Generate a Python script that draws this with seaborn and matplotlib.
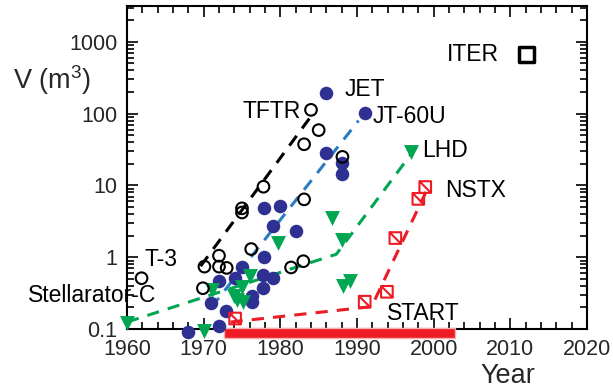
import matplotlib
matplotlib.use("Agg")
import matplotlib.pyplot as plt
from matplotlib.path import Path
from matplotlib.patches import Rectangle
from matplotlib.ticker import FixedLocator, FuncFormatter, MultipleLocator, LogLocator
import seaborn as sns
import numpy as np

# ---------------- data ----------------
tok_open_year = [1961.9, 1969.9, 1970.1, 1972.0, 1972.0, 1973.0, 1975.0, 1975.0, 1976.2,
                 1977.8, 1981.4, 1983.0, 1983.1, 1983.1, 1984.0, 1985.0, 1988.1]
tok_open_vol = [0.51, 0.37, 0.74, 1.05, 0.74, 0.71, 4.8, 4.2, 1.3,
                9.6, 0.72, 0.88, 6.4, 37.5, 113, 59, 25]

tok_fill_year = [1968.0, 1971.0, 1972.0, 1972.0, 1972.9, 1974.1, 1975.0, 1976.3, 1976.3,
                 1977.8, 1977.8, 1977.9, 1977.9, 1979.0, 1979.1, 1980.0, 1982.0,
                 1986.0, 1986.0, 1988.1, 1988.1, 1991.0]
tok_fill_vol = [0.09, 0.23, 0.11, 0.46, 0.18, 0.51, 0.74, 0.24, 0.29,
                0.37, 0.57, 1.02, 4.8, 2.7, 0.51, 5.2, 2.35,
                28, 193, 20.8, 14.5, 101]

stell_year = [1960.0, 1970.0, 1971.1, 1973.9, 1974.4, 1975.1, 1975.0, 1976.1, 1979.7,
              1986.7, 1988.0, 1988.2, 1989.1, 1997.0]
stell_vol = [0.122, 0.095, 0.35, 0.29, 0.25, 0.24, 0.39, 0.54, 1.6,
             3.5, 1.75, 0.40, 0.47, 29]

st_year = [1974.1, 1991.0, 1993.9, 1995.0, 1998.0, 1998.9]
st_vol = [0.14, 0.24, 0.33, 1.85, 6.5, 9.5]

iter_year = [2012.1]
iter_vol = [660]

trend_black_year = [1969.6, 1984.4]
trend_black_vol = [0.75, 105]
trend_blue_year = [1971.0, 1990.2]
trend_blue_vol = [0.2, 80]
trend_green_year = [1960.0, 1987.3, 1998.2]
trend_green_vol = [0.125, 1.1, 40]
trend_red_year = [1973.5, 1991.9, 1999.3]
trend_red_vol = [0.125, 0.205, 9.5]

bar_start, bar_end = 1972.6, 2002.8

labels = ["JET", "TFTR", "JT-60U", "LHD", "NSTX", "START", "T-3", "Stellarator-C", "ITER"]
label_year = [1988.4, 1982.6, 1992.1, 1998.5, 2001.5, 1993.9, 1962.3, 1947.1, 2001.7]
label_vol = [214, 106, 90, 31, 8.6, 0.167, 0.92, 0.29, 660]
label_ha = ["left", "right", "left", "left", "left", "left", "left", "left", "left"]

x_ticks = [1960, 1970, 1980, 1990, 2000, 2010, 2020]
y_ticks = [0.1, 1, 10, 100, 1000]
y_ticklabels = ["0.1", "1", "10", "100", "1000"]

# ---------------- style ----------------
sns.set_style("ticks")
plt.rcParams["font.family"] = ["Liberation Sans", "DejaVu Sans"]
plt.rcParams["mathtext.fontset"] = "custom"
plt.rcParams["mathtext.rm"] = "Liberation Sans"
plt.rcParams["mathtext.it"] = "Liberation Sans"

BLUE_DOT = "#2e3192"
BLUE_LINE = "#2a7bc4"
GREEN = "#00a651"
RED = "#ed1c24"

fig = plt.figure(figsize=(6.13, 3.92), dpi=100)
ax = fig.add_axes([127 / 613, 1 - 329 / 392, 460 / 613, 323 / 392])

ax.set_yscale("log")
ax.set_xlim(1960, 2020)
ax.set_ylim(0.1, 10 ** 3.5)

lw = 2.2
dash = (0, (4, 3))
sns.lineplot(x=trend_black_year, y=trend_black_vol, ax=ax, color="black", linewidth=lw,
             linestyle=dash, sort=False, estimator=None, zorder=2)
sns.lineplot(x=trend_blue_year, y=trend_blue_vol, ax=ax, color=BLUE_LINE, linewidth=lw,
             linestyle=dash, sort=False, estimator=None, zorder=2)
sns.lineplot(x=trend_green_year, y=trend_green_vol, ax=ax, color=GREEN, linewidth=lw,
             linestyle=dash, sort=False, estimator=None, zorder=2)
sns.lineplot(x=trend_red_year, y=trend_red_vol, ax=ax, color=RED, linewidth=lw,
             linestyle=dash, sort=False, estimator=None, zorder=2)

sns.scatterplot(x=tok_fill_year, y=tok_fill_vol, ax=ax, color=BLUE_DOT, s=95,
                edgecolor=BLUE_DOT, linewidth=0, zorder=4, clip_on=False)
sns.scatterplot(x=tok_open_year, y=tok_open_vol, ax=ax, facecolor="none", s=70,
                edgecolor="black", linewidth=1.5, zorder=5, clip_on=False)
sns.scatterplot(x=stell_year, y=stell_vol, ax=ax, marker="v", color=GREEN, s=115,
                edgecolor=GREEN, linewidth=0, zorder=4, clip_on=False)

sq_diag = Path([(-1, -1), (1, -1), (1, 1), (-1, 1), (-1, -1), (-1, 1), (1, -1)],
               [Path.MOVETO, Path.LINETO, Path.LINETO, Path.LINETO, Path.CLOSEPOLY,
                Path.MOVETO, Path.LINETO])
sns.scatterplot(x=st_year, y=st_vol, ax=ax, marker=sq_diag, facecolor="none", s=70,
                edgecolor=RED, linewidth=1.5, zorder=6, clip_on=False)
sns.scatterplot(x=iter_year, y=iter_vol, ax=ax, marker="s", facecolor="none", s=115,
                edgecolor="black", linewidth=2.5, zorder=6, clip_on=False)

ax.add_patch(Rectangle((bar_start, -0.028), bar_end - bar_start, 0.031,
                       transform=ax.get_xaxis_transform(), facecolor=RED,
                       edgecolor="#f6b0b0", linewidth=1, clip_on=False, zorder=3))

for t, xv, yv, ha in zip(labels, label_year, label_vol, label_ha):
    ax.text(xv, yv, t, ha=ha, va="center", fontsize=16.5, color="black", clip_on=False)

# axes ticks
ax.xaxis.set_major_locator(FixedLocator(x_ticks))
ax.xaxis.set_minor_locator(MultipleLocator(2))
ax.yaxis.set_major_locator(FixedLocator(y_ticks))
ax.yaxis.set_minor_locator(LogLocator(base=10, subs=np.arange(2, 10)))
ax.yaxis.set_major_formatter(FuncFormatter(lambda v, p: y_ticklabels[y_ticks.index(v)] if v in y_ticks else ""))
ax.yaxis.set_minor_formatter(FuncFormatter(lambda v, p: ""))
ax.set_xticklabels([str(v) for v in x_ticks])
ax.tick_params(which="both", direction="in", top=True, right=True, width=1.2, color="black")
ax.tick_params(which="major", length=8, labelsize=15.5, pad=7)
ax.tick_params(which="minor", length=5)
for sp in ax.spines.values():
    sp.set_linewidth(1.5)
    sp.set_color("black")
    sp.set_visible(True)
ax.set_xlabel("")
ax.set_ylabel("")

fig.text(52 / 613, 1 - 80 / 392, "V (m$^3$)", ha="center", va="center", fontsize=19.5)
fig.text(508 / 613, 1 - 376 / 392, "Year", ha="center", va="center", fontsize=19.5)

fig.savefig("out.png", dpi=100)
